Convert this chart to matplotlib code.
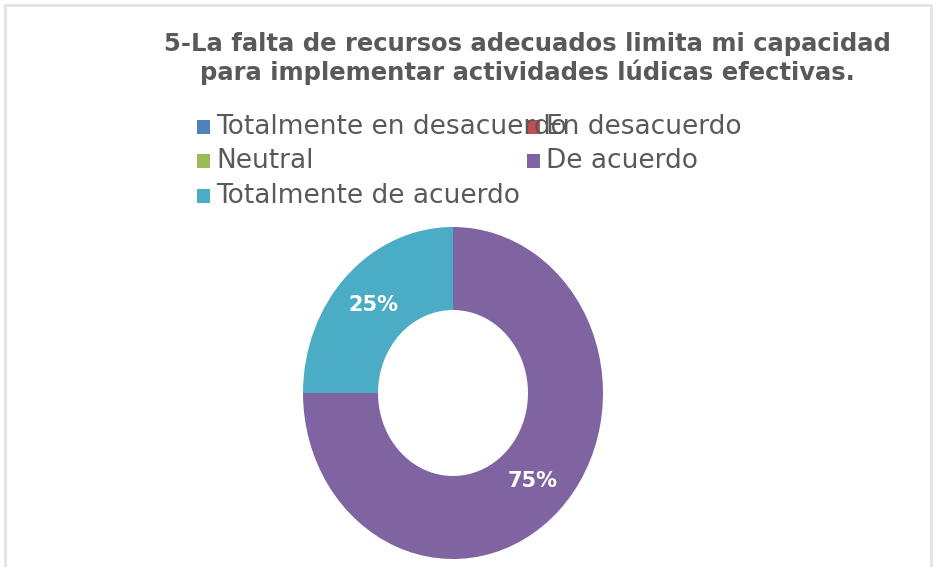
import matplotlib
matplotlib.use("Agg")
import matplotlib.pyplot as plt
from matplotlib.patches import Rectangle

categories = ["Totalmente en desacuerdo", "En desacuerdo", "Neutral", "De acuerdo", "Totalmente de acuerdo"]
values = [0, 0, 0, 75, 25]
colors = ["#4F81BD", "#C0504D", "#9BBB59", "#8064A2", "#4BACC6"]
title_lines = ["5-La falta de recursos adecuados limita mi capacidad",
               "para implementar actividades lúdicas efectivas."]

W, H = 937, 567
fig = plt.figure(figsize=(W / 100, H / 100), dpi=100)
fig.patch.set_facecolor("white")

# outer frame
fig.patches.append(Rectangle((5 / W, -0.05), (931 - 5) / W, 1.0 - 5 / H + 0.05,
                             transform=fig.transFigure, fill=False,
                             edgecolor="#e3e3e3", linewidth=2))

for line, base in zip(title_lines, [51, 80]):
    fig.text(527 / W, 1 - base / H, line, ha="center", va="baseline",
             fontsize=17.5, fontweight="bold", color="#595959",
             family="DejaVu Sans")

# legend (manual layout, two columns)
col_x = [197, 527]
row_y = [127, 161, 196]
for i, (cat, col) in enumerate(zip(categories, colors)):
    cx = col_x[i % 2]
    cy = row_y[i // 2]
    fig.patches.append(Rectangle((cx / W, 1 - (cy + 7) / H), 13 / W, 14 / H,
                                 transform=fig.transFigure, facecolor=col,
                                 edgecolor="none"))
    fig.text((cx + 19) / W, 1 - cy / H, cat, ha="left", va="center",
             fontsize=19, color="#595959", family="DejaVu Sans")

ax = fig.add_axes([303 / W, (H - 559) / H, 300 / W, 332 / H])

def fmt(p):
    return f"{p:.0f}%" if p > 0.5 else ""

wedges, texts, autotexts = ax.pie(values, colors=colors, startangle=90, counterclock=False,
                                  radius=1.0, autopct=fmt, pctdistance=0.75,
                                  wedgeprops=dict(width=0.5, linewidth=0),
                                  textprops=dict(color="white", fontsize=15, fontweight="bold"))
ax.set_aspect("auto")
ax.set_xlim(-1, 1)
ax.set_ylim(-1, 1)
ax.axis("off")

fig.savefig("out.png", dpi=100, facecolor="white")
